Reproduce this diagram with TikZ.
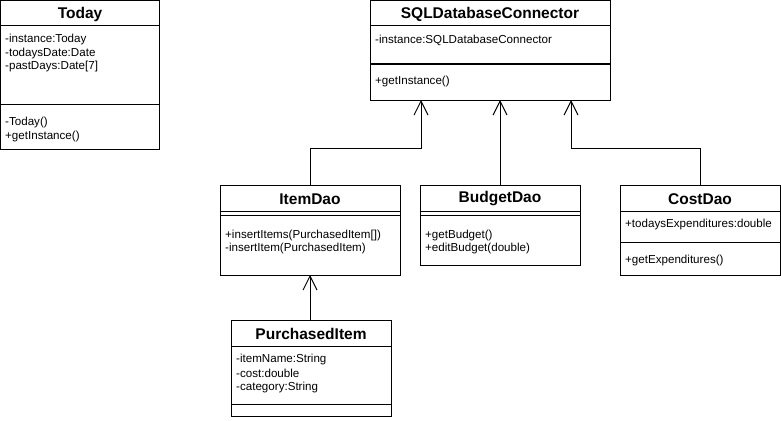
\documentclass[tikz,border=0pt]{standalone}
\usepackage{fontspec}
\setmainfont{Liberation Sans}
\usetikzlibrary{arrows.meta}
\begin{document}
\begin{tikzpicture}[x=1pt,y=-1pt,
  cls/.style={draw, line width=1pt, anchor=north west, inner sep=0pt, outer sep=0pt, fill=white},
  sep/.style={line width=1pt},
  ttl/.style={font=\bfseries\fontsize{15.5}{18}\selectfont, inner sep=0pt},
  txt/.style={font=\fontsize{11.6}{14}\selectfont, anchor=west, inner sep=0pt},
  arr/.style={line width=1pt, -{Straight Barb[length=14pt,width=14pt]}}]
\useasboundingbox (0,0) rectangle (781,420);
\fill[white] (0,0) rectangle (781,420);

% Today
\node[cls, minimum width=159pt, minimum height=149pt] (today) at (0.5,0.5) {};
\draw[sep] (0.5,26) -- (159.5,26);
\draw[sep] (0.5,104) -- (159.5,104);
\node[ttl] (todayT) at (80,14) {Today};
\node[txt] (todayA1) at (5,40) {-instance:Today};
\node[txt] (todayA2) at (5,53.5) {-todaysDate:Date};
\node[txt] (todayA3) at (5,67) {-pastDays:Date[7]};
\node[txt] (todayM1) at (5,122) {-Today()};
\node[txt] (todayM2) at (5,136) {+getInstance()};

% SQLDatabaseConnector
\node[cls, minimum width=240pt, minimum height=99.5pt] (sql) at (370,0.5) {};
\draw[sep] (370,26) -- (610,26);
\draw[sep] (370,64) -- (610,64);
\node[ttl] (sqlT) at (490,14) {SQLDatabaseConnector};
\node[txt] (sqlA1) at (375,40) {-instance:SQLDatabaseConnector};
\node[txt] (sqlM1) at (375,82) {+getInstance()};
\coordinate (sqlL) at (421,100);
\coordinate (sqlM) at (500,100);
\coordinate (sqlR) at (571,100);

% ItemDao
\node[cls, minimum width=180pt, minimum height=90pt] (item) at (220,185) {};
\draw[sep] (220,211) -- (400,211);
\draw[sep] (220,215) -- (400,215);
\node[ttl] (itemT) at (310,199) {ItemDao};
\node[txt] (itemM1) at (225,235) {+insertItems(PurchasedItem[])};
\node[txt] (itemM2) at (225,248) {-insertItem(PurchasedItem)};
\coordinate (itemB) at (310,275);

% BudgetDao
\node[cls, minimum width=160pt, minimum height=80pt] (budget) at (420,185) {};
\draw[sep] (420,211) -- (580,211);
\draw[sep] (420,215) -- (580,215);
\node[ttl] (budgetT) at (500,199) {BudgetDao};
\node[txt] (budgetM1) at (425,235) {+getBudget()};
\node[txt] (budgetM2) at (425,248) {+editBudget(double)};

% CostDao
\node[cls, minimum width=160pt, minimum height=90pt] (cost) at (620,185) {};
\draw[sep] (620,211) -- (780,211);
\draw[sep] (620,242) -- (780,242);
\node[ttl] (costT) at (700,199) {CostDao};
\begin{scope}
\clip (620,212) rectangle (779.5,241);
\node[txt] (costA1) at (625,224) {+todaysExpenditures:double};
\end{scope}
\node[txt] (costM1) at (625,260) {+getExpenditures()};

% PurchasedItem
\node[cls, minimum width=160pt, minimum height=96pt] (purch) at (231,320) {};
\draw[sep] (231,346) -- (391,346);
\draw[sep] (231,404) -- (391,404);
\node[ttl] (purchT) at (311,334) {PurchasedItem};
\node[txt] (purchA1) at (236,359) {-itemName:String};
\node[txt] (purchA2) at (236,373) {-cost:double};
\node[txt] (purchA3) at (236,387) {-category:String};

% connectors
\coordinate (bendL) at (310,148);
\coordinate (bendR) at (700,148);
\draw[arr] (item.north) -- (bendL) -| (sqlL);
\draw[arr] (budget.north) -- (sqlM);
\draw[arr] (cost.north) -- (bendR) -| (sqlR);
\draw[arr] (purch.north -| itemB) -- (itemB);
\end{tikzpicture}
\end{document}
